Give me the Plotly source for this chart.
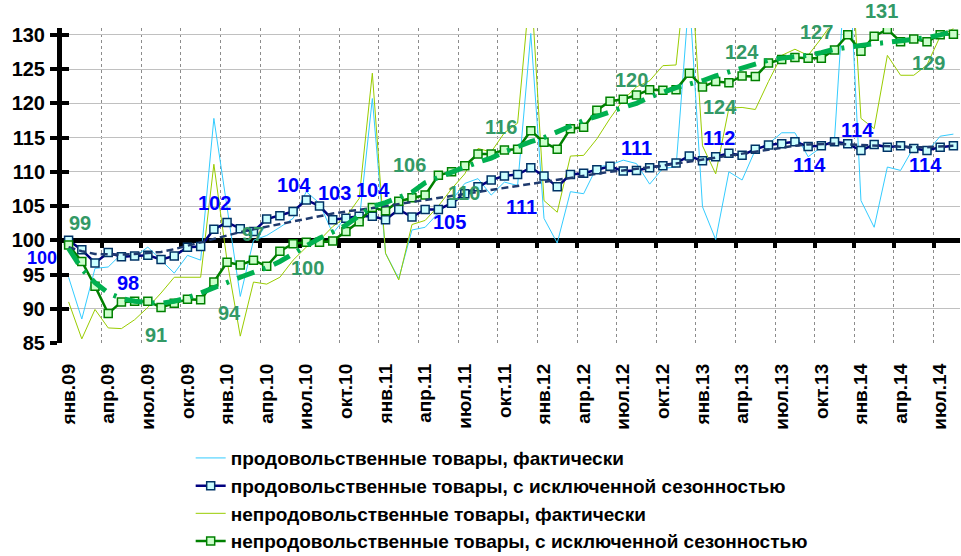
import plotly.graph_objects as go

tick_labels = ['янв.09', 'апр.09', 'июл.09', 'окт.09',
               'янв.10', 'апр.10', 'июл.10', 'окт.10',
               'янв.11', 'апр.11', 'июл.11', 'окт.11',
               'янв.12', 'апр.12', 'июл.12', 'окт.12',
               'янв.13', 'апр.13', 'июл.13', 'окт.13',
               'янв.14', 'апр.14', 'июл.14']

food_fact = [94.6, 88.5, 95.9, 96.1, 98.0, 97.6, 99.0, 97.1, 95.2, 97.8, 97.1, 117.8,
             104.5, 91.8, 100.0, 100.7, 101.9, 103.2, 107.1, 105.4, 101.0, 103.4, 102.7, 120.7,
             98.1, 94.4, 101.5, 101.9, 104.0, 105.8, 108.3, 109.0, 106.6, 108.5, 108.0, 130.2,
             103.2, 99.6, 107.1, 106.8, 110.7, 111.0, 111.7, 111.2, 108.2, 110.5, 110.7, 136.0,
             104.9, 100.1, 110.0, 108.8, 113.2, 114.1, 115.7, 115.7, 112.2, 113.6, 114.8, 145.0,
             105.8, 101.9, 110.7, 110.2, 113.6, 112.9, 115.2, 115.5]

food_sa = [100.0, 98.6, 96.7, 98.2, 97.6, 97.7, 97.8, 97.2, 97.7, 99.0, 99.1, 101.6,
           102.6, 101.7, 101.3, 103.1, 103.6, 104.2, 105.9, 105.0, 103.0, 103.2, 103.5, 103.5,
           103.0, 104.5, 103.4, 104.5, 104.5, 105.4, 106.8, 107.8, 108.8, 109.4, 109.6, 110.6,
           109.4, 107.8, 109.6, 109.8, 110.3, 110.8, 110.1, 110.2, 110.6, 110.9, 111.3, 112.3,
           111.6, 112.2, 112.7, 112.4, 113.3, 113.9, 114.1, 114.4, 113.7, 113.8, 114.4, 114.1,
           113.1, 114.0, 113.6, 113.8, 113.4, 113.1, 113.6, 113.8]

nonfood_fact = [91.0, 85.6, 89.9, 87.2, 87.1, 88.4, 90.2, 92.3, 94.6, 94.6, 94.6, 111.1,
                97.0, 86.0, 93.9, 93.6, 94.6, 97.1, 99.0, 100.0, 102.0, 103.4, 106.1, 124.4,
                98.1, 94.2, 102.3, 102.9, 105.0, 107.5, 109.7, 113.4, 112.9, 115.7, 117.1, 138.0,
                105.8, 104.1, 112.3, 112.4, 114.8, 117.8, 120.5, 122.4, 123.3, 125.5, 125.6, 144.0,
                113.8, 109.7, 119.3, 119.4, 119.1, 123.2, 127.0, 127.9, 127.0, 129.5, 132.2, 150.0,
                117.8, 116.3, 127.0, 124.1, 124.1, 125.6, 129.8, 130.9]

nonfood_sa = [99.3, 96.9, 93.3, 89.3, 91.0, 91.1, 91.1, 90.2, 90.8, 91.4, 91.3, 93.9,
              96.8, 96.4, 97.1, 96.2, 98.4, 99.5, 99.7, 99.7, 99.9, 101.3, 102.7, 104.8,
              104.3, 105.7, 106.2, 106.6, 109.5, 110.0, 110.9, 112.6, 112.6, 113.2, 113.3, 116.0,
              114.3, 113.3, 116.3, 116.5, 119.0, 120.3, 120.6, 121.2, 122.0, 121.9, 122.0, 124.4,
              122.4, 123.2, 123.0, 124.0, 123.9, 125.9, 126.4, 126.7, 126.6, 126.6, 127.8, 130.0,
              127.6, 129.8, 130.8, 129.0, 129.4, 129.0, 130.0, 130.1]

food_trend = [99.0, 98.4, 98.0, 97.9, 97.9, 98.0, 98.1, 98.3, 98.7, 99.2, 99.8, 100.3,
              100.8, 101.2, 101.6, 102.0, 102.4, 102.8, 103.2, 103.6, 103.9, 104.2, 104.4, 104.7,
              105.0, 105.3, 105.6, 105.9, 106.1, 106.4, 106.7, 107.0, 107.3, 107.6, 107.9, 108.2,
              108.5, 108.8, 109.1, 109.4, 109.7, 110.0, 110.2, 110.4, 110.6, 110.9, 111.2, 111.5,
              111.8, 112.1, 112.4, 112.7, 113.0, 113.3, 113.6, 113.8, 114.0, 114.1, 114.1, 114.0,
              113.9, 113.8, 113.7, 113.6, 113.6, 113.6, 113.7, 113.8]

nonfood_trend = [98.8, 95.8, 93.8, 92.3, 91.5, 91.1, 90.9, 90.8, 91.1, 91.6, 92.3, 93.1,
                 93.9, 94.6, 95.3, 96.0, 96.9, 98.0, 99.3, 100.3, 101.2, 102.2, 103.6, 104.9,
                 105.5, 106.3, 107.0, 108.4, 109.2, 109.9, 110.7, 111.4, 112.0, 112.9, 113.7, 114.4,
                 115.0, 115.8, 116.7, 117.5, 118.1, 118.8, 119.4, 120.0, 120.9, 121.6, 122.3, 122.8,
                 123.3, 124.0, 124.6, 125.1, 125.8, 126.3, 126.6, 126.8, 127.0, 127.4, 127.9, 128.2,
                 128.5, 128.7, 128.9, 129.1, 129.3, 129.6, 130.0, 130.5]

# data labels: (text, month index, value position)
food_labels = [('100', -2.05, 97.4), ('98', 4.47, 93.8), ('102', 11.06, 105.45),
               ('104', 17.05, 108.1), ('103', 20.15, 106.9), ('104', 23.03, 107.35),
               ('105', 28.86, 102.7), ('111', 34.32, 104.86), ('111', 43.03, 113.5),
               ('112', 49.24, 114.94), ('114', 56.14, 111.0), ('114', 59.77, 116.1),
               ('114', 64.85, 111.0)]
nonfood_labels = [('99', 0.83, 102.53), ('91', 6.59, 86.17), ('94', 12.2, 89.38),
                  ('97', 13.94, 100.92), ('100', 18.1, 95.96), ('106', 25.83, 110.99),
                  ('110', 29.92, 106.9), ('116', 32.73, 116.55), ('120', 42.65, 123.41),
                  ('124', 50.98, 127.5), ('124', 49.32, 119.47), ('127', 56.67, 130.4),
                  ('131', 61.59, 133.5), ('129', 65.08, 125.9)]

n = len(food_sa)
x = list(range(n))
tick_pos = list(range(0, n, 3))
bound_pos = [b - 0.5 for b in range(3, n + 1, 3)]
y_ticks = list(range(85, 131, 5))
Y_MIN, Y_MAX = 85, 131
X_MIN, X_MAX = -0.5, n - 0.5
FONT = 'Arial, Liberation Sans, sans-serif'
PLOT_W, PLOT_H = 898, 315
px_per_x = PLOT_W / (X_MAX - X_MIN)
px_per_y = PLOT_H / (Y_MAX - Y_MIN)

fig = go.Figure()
fig.add_trace(go.Scatter(x=x, y=food_fact, mode='lines', name='продовольственные товары, фактически',
                         line=dict(color='#33CCFF', width=1)))
fig.add_trace(go.Scatter(x=x, y=nonfood_fact, mode='lines', name='непродовольственные товары, фактически',
                         line=dict(color='#99CC00', width=1), showlegend=False))
fig.add_trace(go.Scatter(x=x, y=food_sa, mode='lines+markers',
                         name='продовольственные товары, с исключенной сезонностью',
                         line=dict(color='#000080', width=2.5),
                         marker=dict(symbol='square', size=8, color='#CCFFFF',
                                     line=dict(color='#003366', width=1.5))))
fig.add_trace(go.Scatter(x=x, y=nonfood_sa, mode='lines+markers',
                         name='непродовольственные товары, с исключенной сезонностью',
                         line=dict(color='#008000', width=2.5),
                         marker=dict(symbol='square', size=8, color='#CCFFCC',
                                     line=dict(color='#008000', width=1.5)), showlegend=False))
# legend entries (reference order)
fig.add_trace(go.Scatter(x=[None], y=[None], mode='lines', name='непродовольственные товары, фактически',
                         line=dict(color='#99CC00', width=1)))
fig.add_trace(go.Scatter(x=[None], y=[None], mode='lines+markers',
                         name='непродовольственные товары, с исключенной сезонностью',
                         line=dict(color='#008000', width=2.5),
                         marker=dict(symbol='square', size=8, color='#CCFFCC',
                                     line=dict(color='#008000', width=1.5))))
fig.add_trace(go.Scatter(x=x, y=food_trend, mode='lines', showlegend=False, xaxis='x2', yaxis='y2',
                         line=dict(color='#1F3A6E', width=2.5, dash='7px,4px')))
fig.add_trace(go.Scatter(x=x, y=nonfood_trend, mode='lines', showlegend=False, xaxis='x2', yaxis='y2',
                         line=dict(color='#00B050', width=5, dash='18px,9px,3px,9px')))


def add_label(t, xx, yy, color, size=20):
    xs = 0.0
    ys = 0.0
    if xx < X_MIN:
        xs = (xx - X_MIN) * px_per_x
        xx = X_MIN
    if yy > Y_MAX:
        ys = (yy - Y_MAX) * px_per_y
        yy = Y_MAX
    fig.add_annotation(x=xx, y=yy, xshift=xs, yshift=ys, text=t, showarrow=False,
                       font=dict(family=FONT, size=size, color=color, weight='bold'))


for t, xx, yy in food_labels:
    add_label(t, xx, yy, '#0000FF', 18 if xx < X_MIN else 20)
for t, xx, yy in nonfood_labels:
    add_label(t, xx, yy, '#339966')

fig.update_layout(
    width=961, height=556,
    margin=dict(l=62, r=1, t=28, b=213, autoexpand=False),
    paper_bgcolor='white', plot_bgcolor='white',
    font=dict(family=FONT, size=19, color='black', weight='bold'),
    xaxis=dict(range=[X_MIN, X_MAX], tickmode='array', tickvals=tick_pos, ticktext=tick_labels,
               tickangle=-90, showgrid=False, showline=False, zeroline=False, ticks='',
               tickfont=dict(family=FONT, size=19, color='black', weight='bold'),
               ticklabelstandoff=16, layer='below traces',
               minor=dict(tickmode='array', tickvals=bound_pos, showgrid=True, griddash='dot',
                          gridcolor='#8C8C8C', gridwidth=1, ticks='')),
    xaxis2=dict(range=[X_MIN, X_MAX], overlaying='x', anchor='free', position=(100 - Y_MIN) / (Y_MAX - Y_MIN),
                showline=True, linecolor='black', linewidth=5, ticks='outside', ticklen=5,
                tickwidth=4, tickcolor='black', tickmode='array', tickvals=bound_pos,
                showticklabels=False, showgrid=False, zeroline=False, layer='below traces'),
    yaxis=dict(range=[Y_MIN, Y_MAX], tickmode='array', tickvals=y_ticks, showgrid=True,
               gridcolor='#C0C0C0', gridwidth=1, zeroline=False, showline=True,
               linecolor='black', linewidth=5, ticks='outside', ticklen=7, tickwidth=4,
               tickcolor='black', ticklabelstandoff=1, layer='below traces',
               tickfont=dict(family=FONT, size=20, color='black', weight='bold')),
    yaxis2=dict(range=[Y_MIN, Y_MAX], overlaying='y', anchor='x', tickmode='array', tickvals=y_ticks,
                showgrid=False, zeroline=False, showline=False, ticks='inside', ticklen=7,
                tickwidth=4, tickcolor='black', showticklabels=False, layer='below traces'),
    legend=dict(x=0.1433, y=-0.305, xanchor='left', yanchor='top', traceorder='normal',
                font=dict(family=FONT, size=19, color='black', weight='bold'),
                tracegroupgap=0, itemwidth=30, bgcolor='rgba(0,0,0,0)'),
    showlegend=True,
)

fig.write_html('out.html', config={'displayModeBar': False},
               post_script="document.body.style.margin='0px';document.body.style.overflow='hidden';")
